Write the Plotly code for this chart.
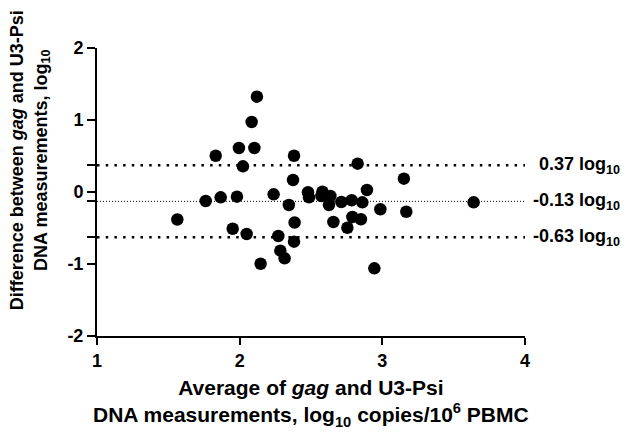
import plotly.graph_objects as go

# Bland-Altman data: mean of the two assays (x) vs. their difference (y), log10 units
avg_log10 = [1.563, 1.762, 1.832, 1.867, 1.951, 1.981, 1.995, 2.023, 2.049, 2.084,
             2.103, 2.121, 2.147, 2.238, 2.271, 2.285, 2.315, 2.345, 2.374, 2.381,
             2.381, 2.385, 2.479, 2.486, 2.580, 2.573, 2.636, 2.626, 2.657, 2.713,
             2.755, 2.785, 2.790, 2.827, 2.850, 2.860, 2.892, 2.944, 2.986, 3.151,
             3.168, 3.640]
diff_log10 = [-0.382, -0.125, 0.504, -0.074, -0.510, -0.065, 0.611, 0.357, -0.583, 0.972,
              0.611, 1.324, -0.996, -0.032, -0.611, -0.815, -0.921, -0.181, 0.167, 0.504,
              -0.690, -0.424, -0.004, -0.074, 0.004, -0.056, -0.056, -0.181, -0.417, -0.139,
              -0.496, -0.115, -0.347, 0.393, -0.379, -0.143, 0.028, -1.060, -0.240, 0.185,
              -0.274, -0.143]

# Bias and 95% limits of agreement
bias = -0.13
upper_loa = 0.37
lower_loa = -0.63

x_range = [1, 4]
y_range = [-2, 2]
x_ticks = [1, 2, 3, 4]
y_ticks = [-2, -1, lower_loa, bias, 0, upper_loa, 1, 2]
y_ticktext = ["-2", "-1", "", "", "0", "", "1", "2"]

FONT = "Liberation Sans, Arial, Helvetica, sans-serif"

fig = go.Figure()

# Limits of agreement (coarse dots) and bias (fine dots)
for val, dash, w in [(upper_loa, "2.5px,6.2px", 2.5),
                     (lower_loa, "2.5px,6.2px", 2.5),
                     (bias, "1px,2px", 1)]:
    fig.add_trace(go.Scatter(
        x=x_range, y=[val, val], mode="lines",
        line=dict(color="black", width=w, dash=dash),
        hoverinfo="skip", showlegend=False))

fig.add_trace(go.Scatter(
    x=avg_log10, y=diff_log10, mode="markers",
    marker=dict(color="black", size=12.5, line=dict(width=0)),
    showlegend=False, cliponaxis=False))

# Labels for the horizontal reference lines
for val, shift in [(upper_loa, 12), (bias, 6), (lower_loa, 6)]:
    fig.add_annotation(
        x=x_range[1], y=val, xref="x", yref="y",
        text=f"{val:.2f} log<sub>10</sub>", showarrow=False,
        xanchor="left", yanchor="middle", xshift=shift,
        font=dict(family=FONT, size=18, color="black", weight="bold"))

# Axis titles
fig.add_annotation(
    x=-0.156, y=0.611, xref="paper", yref="paper",
    text="Difference between <i>gag</i> and U3-Psi<br>DNA measurements, log<sub>10</sub>",
    textangle=-90, showarrow=False, xanchor="center", yanchor="middle",
    font=dict(family=FONT, size=18, color="black", weight="bold"))
fig.add_annotation(
    x=0.5, y=-0.233, xref="paper", yref="paper",
    text="Average of <i>gag</i> and U3-Psi<br>DNA measurements, log<sub>10</sub> copies/10<sup>6</sup> PBMC",
    showarrow=False, xanchor="center", yanchor="middle",
    font=dict(family=FONT, size=21, color="black", weight="bold"))

axis_common = dict(
    showline=True, linecolor="black", linewidth=2,
    ticks="outside", tickwidth=2, tickcolor="black",
    showgrid=False, zeroline=False,
    tickfont=dict(family=FONT, size=18, color="black", weight="bold"),
)

fig.update_xaxes(range=x_range, tickvals=x_ticks, ticklen=7, **axis_common)
fig.update_yaxes(range=y_range, tickvals=y_ticks, ticktext=y_ticktext, ticklen=8,
                 **axis_common)

fig.update_layout(
    width=638, height=437,
    margin=dict(l=97, r=113, t=48, b=101),
    plot_bgcolor="white", paper_bgcolor="white",
    font=dict(family=FONT, color="black"),
    showlegend=False,
)

fig.write_html("out.html")
